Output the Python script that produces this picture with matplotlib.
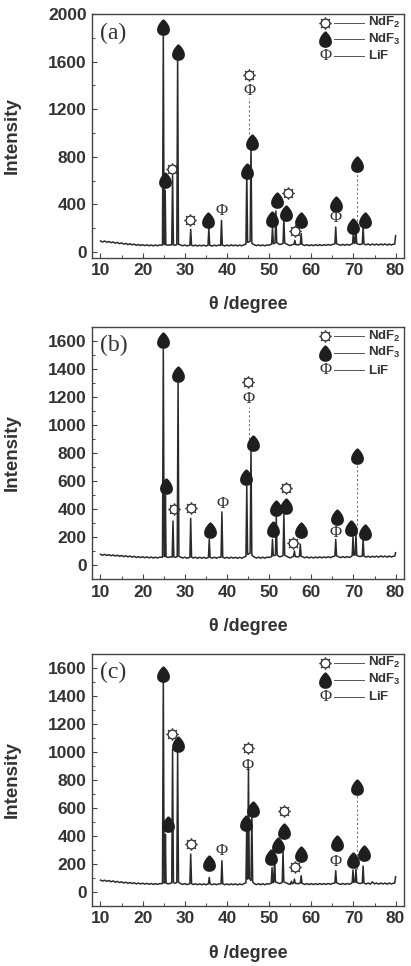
import numpy as np
import matplotlib.pyplot as plt
from matplotlib.path import Path
from matplotlib.ticker import MultipleLocator

plt.rcParams['font.family'] = ['Liberation Sans', 'DejaVu Sans']
plt.rcParams['mathtext.fontset'] = 'custom'
plt.rcParams['mathtext.bf'] = 'Liberation Sans:bold'
plt.rcParams['mathtext.rm'] = 'Liberation Sans'

# XRD traces (theta, intensity)
trace_a = [(10, 92), (10.5, 84), (11, 92), (11.5, 82), (12, 88), (12.5, 78), (13, 84), (13.5, 74), (14, 80), (14.5, 70),
           (15, 76), (15.5, 66), (16, 72), (16.5, 62), (17, 69), (17.5, 60), (18, 66), (18.5, 56), (19, 63), (19.5, 54),
           (20, 61), (20.5, 53), (21, 60), (21.5, 52), (22, 59), (22.5, 51), (23, 59), (23.5, 52), (24, 59), (24.7, 57),
           (24.9, 1815), (25.1, 62), (25.2, 64), (25.35, 519), (25.5, 60), (26, 57), (26.5, 61), (26.9, 58), (27.1, 640),
           (27.3, 60), (27.7, 57), (28.1, 62), (28.3, 1641), (28.5, 64), (29, 59), (29.5, 52), (30, 59), (30.5, 51),
           (31.2, 57), (31.4, 190), (31.6, 57), (32, 51), (32.5, 58), (33, 50), (33.5, 57), (34, 51), (34.5, 58), (35, 50),
           (35.5, 56), (35.7, 200), (35.9, 56), (36.5, 50), (37, 58), (37.5, 51), (38, 58), (38.5, 55), (38.7, 266),
           (38.9, 57), (39.5, 51), (40, 58), (40.5, 51), (41, 60), (41.5, 52), (42, 59), (42.5, 51), (43, 58), (43.5, 52),
           (44, 60), (44.5, 66), (44.7, 685), (44.9, 80), (45.5, 90), (45.7, 913), (45.9, 72), (46.5, 60), (47, 53),
           (47.5, 60), (48, 52), (48.5, 59), (49, 52), (49.5, 59), (50, 57), (50.6, 66), (50.8, 210), (51.0, 70),
           (51.4, 72), (51.6, 345), (51.8, 80), (52.5, 62), (53.3, 70), (53.5, 280), (53.7, 75), (54.5, 60), (55, 54),
           (55.5, 62), (55.9, 64), (56.1, 98), (56.3, 62), (57, 60), (57.4, 66), (57.6, 154), (57.8, 64), (58.5, 54),
           (59, 61), (59.5, 53), (60, 60), (60.5, 53), (61, 61), (61.5, 54), (62, 61), (62.5, 54), (63, 62), (63.5, 55),
           (64, 63), (64.5, 56), (65, 63), (65.6, 68), (65.8, 210), (66.0, 70), (66.5, 62), (67, 56), (67.5, 64), (68, 56),
           (68.5, 64), (69, 57), (69.5, 65), (69.8, 70), (70.0, 174), (70.2, 72), (70.4, 75), (70.6, 182), (70.8, 70),
           (71.5, 62), (72.1, 68), (72.3, 210), (72.5, 68), (73, 60), (73.5, 67), (74, 58), (74.5, 67), (75, 59),
           (75.5, 66), (76, 58), (76.5, 67), (77, 59), (77.5, 67), (78, 58), (78.5, 66), (79, 59), (79.5, 65), (79.8, 66),
           (80, 137)]

trace_b = [(10, 76), (10.5, 70), (11, 76), (11.5, 68), (12, 74), (12.5, 66), (13, 72), (13.5, 64), (14, 70), (14.5, 62),
           (15, 68), (15.5, 60), (16, 66), (16.5, 58), (17, 64), (17.5, 56), (18, 62), (18.5, 54), (19, 60), (19.5, 53),
           (20, 59), (20.5, 52), (21, 58), (21.5, 51), (22, 57), (22.5, 50), (23, 56), (23.5, 50), (24, 56), (24.7, 56),
           (24.9, 1540), (25.1, 60), (25.25, 62), (25.4, 498), (25.55, 60), (26, 54), (26.5, 58), (27.0, 56), (27.2, 314),
           (27.4, 58), (27.8, 55), (28.2, 60), (28.4, 1302), (28.6, 62), (29, 56), (29.5, 50), (30, 56), (30.5, 49),
           (31.2, 55), (31.4, 333), (31.6, 56), (32, 50), (32.5, 56), (33, 48), (33.5, 55), (34, 49), (34.5, 55), (35, 48),
           (35.6, 54), (35.8, 183), (36.0, 55), (36.5, 49), (37, 56), (37.5, 49), (38, 55), (38.6, 55), (38.8, 379),
           (39.0, 56), (39.5, 49), (40, 55), (40.5, 48), (41, 56), (41.5, 49), (42, 55), (42.5, 48), (43, 55), (43.5, 49),
           (44, 56), (44.5, 62), (44.7, 564), (44.9, 75), (45.5, 85), (45.7, 838), (45.9, 70), (46.5, 56), (47, 50),
           (47.5, 56), (48, 49), (48.5, 56), (49, 49), (49.5, 56), (50, 54), (50.6, 60), (50.8, 183), (51.0, 66),
           (51.5, 70), (51.7, 350), (51.9, 72), (52.5, 58), (53.3, 66), (53.5, 360), (53.7, 70), (54.5, 57), (55, 51),
           (55.5, 58), (55.8, 62), (56.0, 100), (56.2, 60), (57, 58), (57.2, 64), (57.4, 148), (57.6, 62), (58.5, 52),
           (59, 58), (59.5, 50), (60, 57), (60.5, 50), (61, 57), (61.5, 51), (62, 58), (62.5, 51), (63, 58), (63.5, 52),
           (64, 59), (64.5, 53), (65, 59), (65.6, 64), (65.8, 183), (66.0, 66), (66.5, 58), (67, 53), (67.5, 60), (68, 53),
           (68.5, 60), (69, 54), (69.5, 61), (69.7, 66), (69.9, 202), (70.1, 70), (70.4, 72), (70.6, 219), (70.8, 68),
           (71.5, 60), (72.1, 64), (72.3, 183), (72.5, 64), (73, 56), (73.5, 63), (74, 55), (74.5, 63), (75, 56),
           (75.5, 63), (76, 56), (76.5, 65), (77, 57), (77.5, 64), (78, 56), (78.5, 64), (79, 57), (79.5, 63), (79.8, 64),
           (80, 88)]

trace_c = [(10, 83), (10.5, 76), (11, 82), (11.5, 74), (12, 80), (12.5, 71), (13, 77), (13.5, 68), (14, 74), (14.5, 65),
           (15, 71), (15.5, 62), (16, 68), (16.5, 60), (17, 66), (17.5, 58), (18, 64), (18.5, 56), (19, 62), (19.5, 55),
           (20, 61), (20.5, 54), (21, 60), (21.5, 53), (22, 59), (22.5, 52), (23, 58), (23.5, 52), (24, 58), (24.7, 58),
           (24.9, 1529), (25.1, 62), (25.25, 64), (25.4, 411), (25.55, 62), (26, 56), (26.5, 59), (26.9, 62), (27.1, 1018),
           (27.3, 66), (27.7, 60), (28.1, 66), (28.3, 1006), (28.5, 68), (29, 58), (29.5, 52), (30, 58), (30.5, 51),
           (31.2, 57), (31.4, 269), (31.6, 58), (32, 51), (32.5, 57), (33, 50), (33.5, 56), (34, 50), (34.5, 56), (35, 50),
           (35.6, 56), (35.8, 102), (36.0, 56), (36.5, 50), (37, 56), (37.5, 50), (38, 56), (38.6, 56), (38.8, 221),
           (39.0, 57), (39.5, 50), (40, 56), (40.5, 49), (41, 57), (41.5, 50), (42, 56), (42.5, 49), (43, 56), (43.5, 50),
           (44, 57), (44.5, 64), (44.7, 485), (44.9, 90), (45.1, 890), (45.3, 95), (45.7, 80), (45.9, 565), (46.1, 70),
           (46.5, 57), (47, 51), (47.5, 57), (48, 50), (48.5, 57), (49, 50), (49.5, 57), (50, 55), (50.5, 60), (50.7, 173),
           (50.9, 64), (51.1, 68), (51.3, 257), (51.5, 70), (52.5, 58), (53.1, 66), (53.3, 292), (53.5, 70), (54.5, 57),
           (55, 52), (55.3, 75), (55.5, 56), (55.8, 62), (56.0, 90), (56.2, 60), (57, 57), (57.4, 62), (57.6, 114),
           (57.8, 60), (58.5, 52), (59, 58), (59.5, 51), (60, 58), (60.5, 51), (61, 58), (61.5, 51), (62, 58), (62.5, 52),
           (63, 58), (63.5, 52), (64, 59), (64.5, 53), (65, 59), (65.6, 62), (65.8, 150), (66.0, 64), (66.5, 57), (67, 52),
           (67.5, 59), (68, 52), (68.5, 59), (69, 53), (69.5, 60), (69.7, 64), (69.9, 155), (70.1, 66), (70.4, 68),
           (70.6, 162), (70.8, 66), (71.5, 58), (72.1, 62), (72.3, 183), (72.5, 62), (73, 55), (73.5, 62), (74, 54),
           (74.5, 70), (75, 56), (75.5, 62), (76, 54), (76.5, 62), (77, 55), (77.5, 62), (78, 54), (78.5, 62), (79, 55),
           (79.5, 61), (79.8, 62), (80, 107)]

# phase markers (theta, intensity)
ndf3_a = [(24.9, 1893), (25.2, 603), (28.3, 1683), (35.6, 266), (44.65, 679), (46.0, 926), (50.7, 280), (51.85, 435),
          (53.9, 328), (57.5, 272), (65.85, 401), (69.8, 216), (70.9, 743), (72.8, 266)]
ndf2_a = [(26.95, 700), (31.2, 266), (45.3, 1487), (54.4, 496), (56.1, 174)]
lif_a = [(38.8, 342), (45.3, 1355), (65.85, 289)]
dash_a = [(45.3, 913, 1290), (70.8, 182, 690)]

ndf3_b = [(24.8, 1605), (25.6, 564), (28.4, 1367), (35.9, 250), (44.5, 629), (46.2, 874), (50.9, 260), (51.7, 410),
          (53.9, 421), (57.5, 250), (66.0, 343), (69.4, 262), (70.9, 779), (72.7, 238)]
ndf2_b = [(27.4, 398), (31.4, 410), (45.1, 1307), (53.9, 552), (55.7, 160)]
lif_b = [(38.9, 438), (45.1, 1188), (65.85, 231)]
dash_b = [(45.2, 838, 1130), (70.8, 219, 720)]

ndf3_c = [(24.9, 1553), (25.9, 483), (28.5, 1053), (35.8, 202), (44.5, 494), (46.2, 590), (50.5, 245), (52.1, 335),
          (53.6, 435), (57.5, 269), (66.0, 347), (69.8, 228), (70.8, 749), (72.6, 273)]
ndf2_c = [(27.0, 1129), (31.4, 340), (44.9, 1029), (53.6, 573), (56.1, 174)]
lif_c = [(38.8, 288), (44.9, 899), (65.85, 214)]
dash_c = [(70.8, 162, 700)]

panels = ['(a)', '(b)', '(c)']
ylims = [(-50, 2000), (-100, 1700), (-100, 1700)]
ysteps = [400, 200, 200]
legend_labels = [r'$\mathbf{NdF}_\mathbf{2}$', r'$\mathbf{NdF}_\mathbf{3}$', r'$\mathbf{LiF}$']

# marker shapes
t = np.linspace(0, 2 * np.pi, 80)
drop = Path(np.column_stack([0.95 * np.sin(t) * np.sin(t / 2) ** 0.9, np.cos(t)]))
sv, sc = [], []
for k in range(8):
    a = np.deg2rad(np.linspace(k * 45 + 8, k * 45 + 37, 5))
    sv += list(zip(0.7 * np.cos(a), 0.7 * np.sin(a)))
    sc += [Path.MOVETO] + [Path.LINETO] * 4
    g = np.deg2rad(k * 45 + 45)
    sv += [(0.62 * np.cos(g), 0.62 * np.sin(g)), (1.0 * np.cos(g), 1.0 * np.sin(g))]
    sc += [Path.MOVETO, Path.LINETO]
sun = Path(sv, sc)

ink = '#1e1e1e'
fig = plt.figure(figsize=(4.11, 9.66), dpi=100)
boxes = [[0.224, 0.733, 0.759, 0.2526], [0.224, 0.4006, 0.759, 0.261], [0.224, 0.0624, 0.759, 0.261]]
traces = [trace_a, trace_b, trace_c]
ndf3s = [ndf3_a, ndf3_b, ndf3_c]
ndf2s = [ndf2_a, ndf2_b, ndf2_c]
lifs = [lif_a, lif_b, lif_c]
dashes = [dash_a, dash_b, dash_c]

for i in range(3):
    ax = fig.add_axes(boxes[i])
    tr = np.array(traces[i])
    ax.plot(tr[:, 0], tr[:, 1], color='#2a2a2a', lw=1.1)
    for xd, y0, y1 in dashes[i]:
        ax.plot([xd, xd], [y0, y1], color='#777777', lw=0.8, ls=(0, (2, 2)))
    m3 = np.array(ndf3s[i])
    ax.plot(m3[:, 0], m3[:, 1], ls='none', marker=drop, ms=11, color=ink, mec=ink)
    m2 = np.array(ndf2s[i])
    ax.plot(m2[:, 0], m2[:, 1], ls='none', marker=sun, ms=9, mfc='none', mec='#333333', mew=1.0)
    for xl, yl in lifs[i]:
        ax.text(xl, yl, 'Φ', family=['Liberation Serif', 'DejaVu Serif'], fontsize=12,
                ha='center', va='center', color='#333333')

    # legend
    ly = [0.963, 0.897, 0.828]
    ax.plot([0.747], [ly[0]], transform=ax.transAxes, marker=sun, ms=9, mfc='none', mec='#333333', mew=1.0, ls='none')
    ax.plot([0.747], [ly[1]], transform=ax.transAxes, marker=drop, ms=11, color=ink, ls='none')
    ax.text(0.747, ly[2], 'Φ', transform=ax.transAxes, family=['Liberation Serif', 'DejaVu Serif'], fontsize=12,
            ha='center', va='center', color='#333333')
    for j in range(3):
        ax.plot([0.776, 0.872], [ly[j], ly[j]], transform=ax.transAxes, color='#555555', lw=0.7)
        ax.text(0.885, ly[j], legend_labels[j], transform=ax.transAxes, fontsize=9.5, ha='left', va='center',
                color='#333333')

    ax.text(0.026, 0.92 if i == 0 else 0.925, panels[i], transform=ax.transAxes,
            family=['Liberation Serif', 'DejaVu Serif'], fontsize=17, ha='left', va='center', color='#333333')

    ax.set_xlim(8, 82)
    ax.set_ylim(*ylims[i])
    ax.xaxis.set_major_locator(MultipleLocator(10))
    ax.xaxis.set_minor_locator(MultipleLocator(5))
    ax.yaxis.set_major_locator(MultipleLocator(ysteps[i]))
    ax.yaxis.set_minor_locator(MultipleLocator(ysteps[i] / 2))
    ax.tick_params(which='both', direction='in', color='#444444', top=False, right=False)
    ax.tick_params(which='major', length=3.5, width=0.8, labelsize=12.5, labelcolor='#333333', pad=4)
    ax.tick_params(which='minor', length=2, width=0.7)
    for lab in ax.get_xticklabels() + ax.get_yticklabels():
        lab.set_fontweight('bold')
    for s in ax.spines.values():
        s.set_color('#444444')
        s.set_linewidth(1.0)
    ax.set_ylabel('Intensity', fontsize=13.5, fontweight='bold', color='#333333')
    ax.yaxis.set_label_coords(-0.23, 0.5)
    ax.text(0.5, -0.19, 'θ /degree', transform=ax.transAxes, fontsize=13, fontweight='bold',
            ha='center', va='center', color='#333333')

fig.savefig('out.png', dpi=100)
